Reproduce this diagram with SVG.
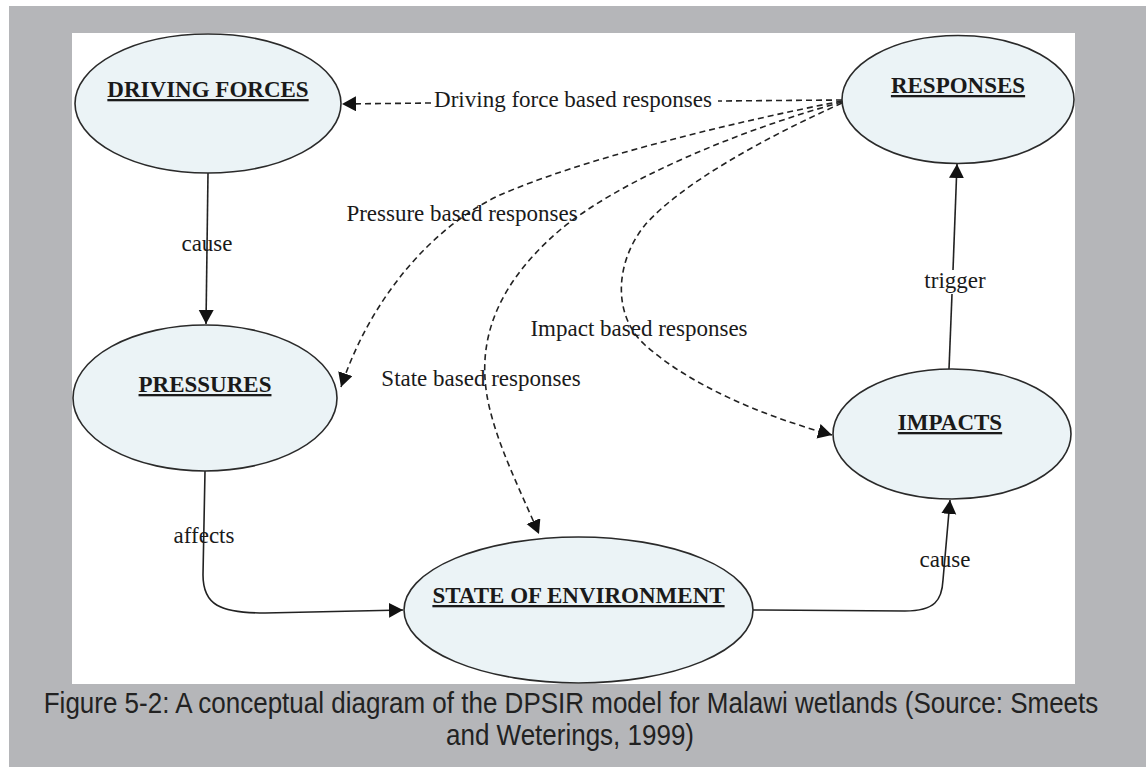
<svg xmlns="http://www.w3.org/2000/svg" width="1146" height="767" viewBox="0 0 1146 767">
  <style>
    .node ellipse { fill: #ebf3f6; stroke: #2a2a2a; stroke-width: 1.6; }
    .node text { font-family: "Liberation Serif", "Times New Roman", serif; font-weight: bold; font-size: 23px; fill: #1a1a1a; text-anchor: middle; text-decoration: underline; }
    .solid { fill: none; stroke: #222; stroke-width: 1.6; }
    .dash { fill: none; stroke: #222; stroke-width: 1.6; stroke-dasharray: 6 4; }
    .lbl { font-family: "Liberation Serif", "Times New Roman", serif; font-size: 23px; fill: #1a1a1a; text-anchor: middle; }
    .cap { font-family: "Liberation Sans", Arial, sans-serif; font-size: 26px; fill: #222; text-anchor: middle; }
  </style>
  <defs>
    <marker id="arrow" markerUnits="userSpaceOnUse" markerWidth="16" markerHeight="16" refX="14" refY="7.5" orient="auto" viewBox="0 0 16 16">
      <path d="M0,0 L14,7.5 L0,15 Z" fill="#111"/>
    </marker>
  </defs>

  <!-- page background and figure panel -->
  <rect x="0" y="0" width="1146" height="767" fill="#ffffff"/>
  <rect x="9" y="6" width="1137" height="761" fill="#b5b6b9"/>
  <rect x="72" y="33" width="1003" height="651" fill="#ffffff"/>

  <!-- connectors -->
  <g id="connectors">
    <!-- Driving forces -> Pressures -->
    <path class="solid" d="M208,173 L206,324" marker-end="url(#arrow)"/>
    <text class="lbl" x="207" y="251">cause</text>

    <!-- Pressures -> State of environment -->
    <path class="solid" d="M205,471 L203,575 C203,605 220,613 265,613 L403,610" marker-end="url(#arrow)"/>
    <text class="lbl" x="204" y="543">affects</text>

    <!-- State of environment -> Impacts -->
    <path class="solid" d="M753,610 L905,611 C935,611 942,600 943,580 L950,500" marker-end="url(#arrow)"/>
    <text class="lbl" x="945" y="567">cause</text>

    <!-- Impacts -> Responses -->
    <path class="solid" d="M949,369 L952,294"/>
    <path class="solid" d="M953,270 L957,164" marker-end="url(#arrow)"/>
    <text class="lbl" x="955" y="288">trigger</text>

    <!-- Responses -> Driving forces -->
    <path class="dash" d="M842,100 L718,101"/>
    <path class="dash" d="M431,103 L342,104" marker-end="url(#arrow)"/>
    <text class="lbl" x="573" y="107">Driving force based responses</text>

    <!-- Responses -> Pressures -->
    <path class="dash" d="M842,101 C720,125 580,160 500,195 C430,228 370,300 341,387" marker-end="url(#arrow)"/>
    <text class="lbl" x="462" y="221">Pressure based responses</text>

    <!-- Responses -> State of environment -->
    <path class="dash" d="M842,102 C740,130 620,180 560,230 C490,290 475,350 490,410 C500,450 520,490 539,534" marker-end="url(#arrow)"/>
    <text class="lbl" x="481" y="386">State based responses</text>

    <!-- Responses -> Impacts -->
    <path class="dash" d="M842,103 C760,140 680,185 645,225 C615,262 612,315 645,345 C690,385 760,415 832,435" marker-end="url(#arrow)"/>
    <text class="lbl" x="639" y="336">Impact based responses</text>
  </g>

  <!-- nodes -->
  <g id="driving-forces" class="node">
    <ellipse cx="208" cy="103.5" rx="133" ry="69.5"/>
    <text x="208" y="97">DRIVING FORCES</text>
  </g>
  <g id="responses" class="node">
    <ellipse cx="958" cy="99.5" rx="116" ry="64"/>
    <text x="958" y="93">RESPONSES</text>
  </g>
  <g id="pressures" class="node">
    <ellipse cx="205" cy="398" rx="132" ry="73"/>
    <text x="205" y="392">PRESSURES</text>
  </g>
  <g id="impacts" class="node">
    <ellipse cx="952" cy="434" rx="119" ry="65"/>
    <text x="950" y="430">IMPACTS</text>
  </g>
  <g id="state" class="node">
    <ellipse cx="578.5" cy="610" rx="174.5" ry="73"/>
    <text x="578.5" y="603">STATE OF ENVIRONMENT</text>
  </g>

  <!-- caption -->
  <g id="caption">
    <text class="cap" transform="translate(571,713) scale(1,1.12)">Figure 5-2: A conceptual diagram of the DPSIR model for Malawi wetlands (Source: Smeets</text>
    <text class="cap" transform="translate(570,745) scale(1,1.12)">and Weterings, 1999)</text>
  </g>
</svg>
